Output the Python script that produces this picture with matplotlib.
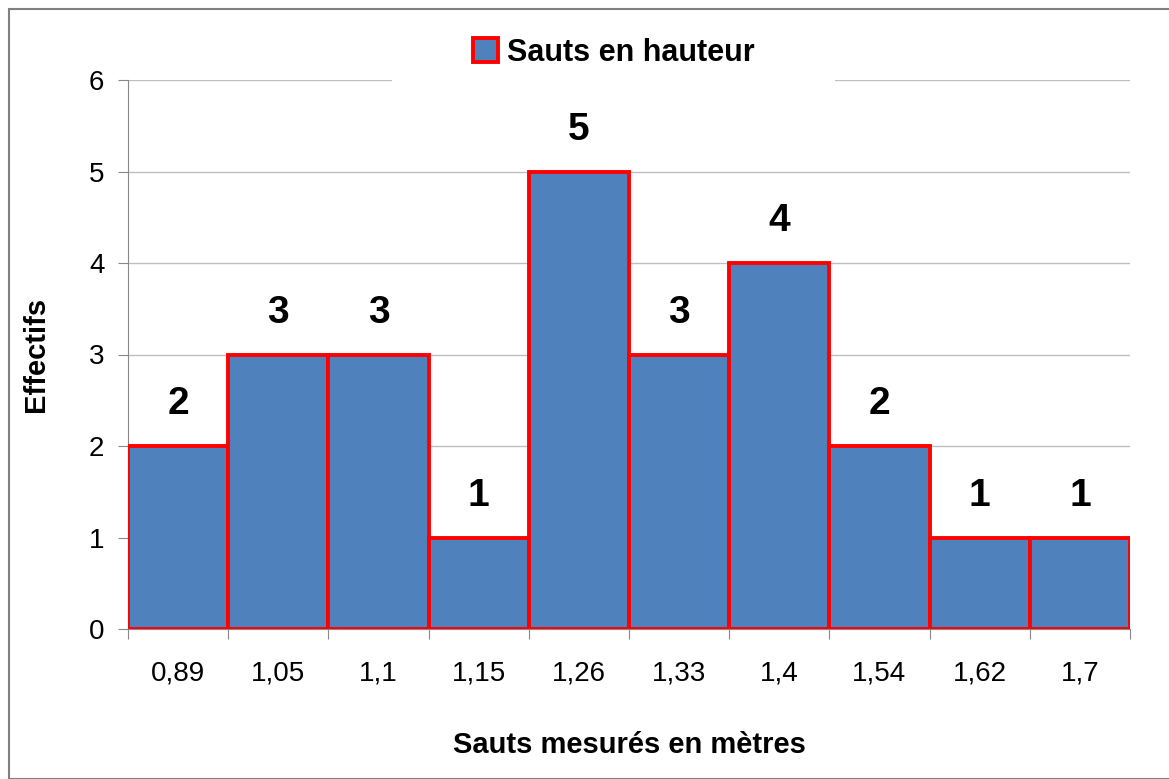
import matplotlib
matplotlib.use("Agg")
import matplotlib.pyplot as plt
from matplotlib.patches import Rectangle
import numpy as np

plt.rcParams['font.family'] = ['Liberation Sans', 'DejaVu Sans']

# Data
categories = ['0,89', '1,05', '1,1', '1,15', '1,26', '1,33', '1,4', '1,54', '1,62', '1,7']
counts = [2, 3, 3, 1, 5, 3, 4, 2, 1, 1]
series_name = 'Sauts en hauteur'

fig = plt.figure(figsize=(11.69, 7.79), dpi=100)
ax = fig.add_axes([128/1169, 1 - 629/779, (1130-128)/1169, (629-80)/779])

# outer frame of the chart area
fig.patches.append(Rectangle((9/1169, 0), 1.2, 1 - 9/779, transform=fig.transFigure,
                             fill=False, edgecolor='#808080', linewidth=1.5))

x = np.arange(len(categories))
bars = ax.bar(x, counts, width=1.0, color='#4F81BD', edgecolor='#FF0000',
              linewidth=2.8, label=series_name, zorder=3)

for xi, c in zip(x, counts):
    ax.text(xi, c + 0.26, str(c), ha='center', va='bottom', fontsize=28, fontweight='bold')

ax.set_xlim(-0.5, len(categories) - 0.5)
ax.set_ylim(0, 6)
ax.set_yticks(range(0, 7))
ax.tick_params(axis='y', labelsize=20, length=7, color='#888888', pad=10)
ax.set_xticks(np.arange(len(categories) + 1) - 0.5)
ax.set_xticklabels([])
ax.set_xticks(x, minor=True)
ax.set_xticklabels(categories, minor=True)
ax.tick_params(axis='x', which='major', length=7, color='#888888')
ax.tick_params(axis='x', which='minor', length=0, labelsize=20, pad=23)

ax.grid(axis='y', color='#BFBFBF', linewidth=1, zorder=0)
ax.set_axisbelow(True)
for s in ['top', 'right']:
    ax.spines[s].set_visible(False)
for s in ['left', 'bottom']:
    ax.spines[s].set_color('#888888')

ax.set_ylabel('Effectifs', fontsize=21, fontweight='bold', labelpad=28)
ax.set_xlabel('Sauts mesurés en mètres', fontsize=21, fontweight='bold', labelpad=32)

# white band behind the legend, hiding the top gridline
ax.add_patch(Rectangle((0.263, 0.985), 0.443, 0.03, transform=ax.transAxes,
                       facecolor='white', edgecolor='none', clip_on=False, zorder=4))

leg = ax.legend(loc='center', bbox_to_anchor=(0.485, 1.05), frameon=False,
                prop={'size': 22, 'weight': 'bold'}, handlelength=0.8, handleheight=0.8,
                handletextpad=0.3, borderpad=0.4)
leg.set_zorder(5)

fig.savefig('out.png', dpi=100)
